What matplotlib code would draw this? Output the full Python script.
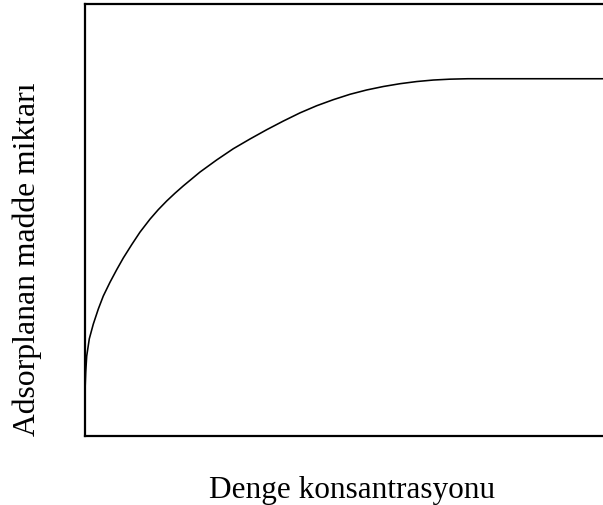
import matplotlib
matplotlib.use("Agg")
import matplotlib.pyplot as plt

# Equilibrium concentration vs. adsorbed amount (arbitrary units)
concentration = [0.0, 0.014, 0.033, 0.083, 0.16, 0.257, 0.353, 0.483, 0.612,
                 0.739, 0.902, 1.062, 1.255, 1.415, 1.577, 1.737, 1.898, 2.220,
                 2.542, 2.863, 3.185, 3.508, 3.828, 4.151, 4.473, 4.793, 5.116,
                 5.438, 5.759, 6.081, 6.403, 6.724, 7.046, 7.39, 10.0]
adsorbed = [1.04, 1.48, 1.85, 2.25, 2.59, 2.94, 3.24, 3.56, 3.85,
            4.12, 4.43, 4.72, 5.02, 5.24, 5.44, 5.62, 5.79, 6.11,
            6.39, 6.65, 6.875, 7.09, 7.29, 7.48, 7.645, 7.785, 7.91,
            8.01, 8.09, 8.155, 8.205, 8.24, 8.26, 8.27, 8.27]

x_label = "Denge konsantrasyonu"
y_label = "Adsorplanan madde miktarı"

plt.rcParams["font.family"] = ["Liberation Serif", "DejaVu Serif"]

fig = plt.figure(figsize=(6.03, 5.06), dpi=100)
ax = fig.add_axes([85 / 603, 69 / 506, 1 - 85 / 603, 432 / 506])

ax.plot(concentration, adsorbed, color="black", linewidth=1.15,
        solid_joinstyle="round")

ax.set_xlim(0, 10)
ax.set_ylim(0, 10)
ax.set_xticks([])
ax.set_yticks([])
for side in ("left", "top", "bottom"):
    ax.spines[side].set_linewidth(1.6)
    ax.spines[side].set_color("black")
ax.spines["right"].set_visible(False)

fig.text(352 / 603, 1 - 498 / 506, x_label, ha="center", va="baseline",
         fontsize=22.5)
fig.text(35 / 603, 1 - 259 / 506, y_label, ha="center", va="baseline",
         rotation=90, rotation_mode="anchor", fontsize=22.8)

fig.savefig("out.png", dpi=100)
